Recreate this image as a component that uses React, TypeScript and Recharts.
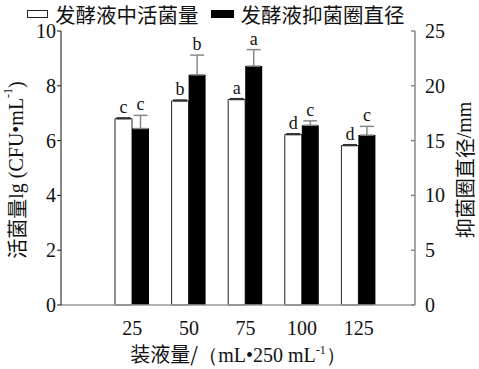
import React from "react";
import { BarChart, Bar, XAxis, YAxis, ErrorBar, LabelList, Label } from "recharts";

const categories = ["25", "50", "75", "100", "125"];
const viableCount = [6.8, 7.45, 7.5, 6.22, 5.82];
const viableErr = [0.03, 0.03, 0.03, 0.03, 0.03];
const viableLetters = ["c", "b", "a", "d", "d"];
const zoneDiameter = [16.1, 21.0, 21.8, 16.4, 15.5];
const zoneErr = [1.2, 1.8, 1.5, 0.4, 0.8];
const zoneLetters = ["c", "b", "a", "c", "c"];
const leftTicks = [0, 2, 4, 6, 8, 10];
const rightTicks = [0, 5, 10, 15, 20, 25];

const data = categories.map((c, i) => ({
  cat: c,
  viable: viableCount[i],
  viableE: [0, viableErr[i]],
  viableL: viableLetters[i],
  zone: zoneDiameter[i],
  zoneE: [0, zoneErr[i]],
  zoneL: zoneLetters[i],
}));

const SERIF = "'Liberation Serif', 'Times New Roman', serif";
const CJK = "'Noto Sans CJK SC', 'Liberation Serif', serif";

const makeLetter = (vals: number[], errs: number[]) => (props: any) => {
  const { x, y, width, height, value, index } = props;
  const v = vals[index];
  const pxPer = v ? height / v : 0;
  const top = y - errs[index] * pxPer;
  return (
    <text x={x + width / 2} y={top - 5} textAnchor="middle" fontFamily={SERIF} fontSize={18} fill="#111">
      {value}
    </text>
  );
};

const XTick = (props: any) => {
  const { x, y, payload } = props;
  return (
    <text x={x} y={y + 22} textAnchor="middle" fontFamily={SERIF} fontSize={20} fill="#111">
      {payload.value}
    </text>
  );
};

const LeftTick = (props: any) => {
  const { x, y, payload } = props;
  return (
    <text x={x} y={y} dy={7} textAnchor="end" fontFamily={SERIF} fontSize={20} fill="#111">
      {payload.value}
    </text>
  );
};

const RightTick = (props: any) => {
  const { x, y, payload } = props;
  const axisX = x - 10;
  return (
    <g>
      <line x1={axisX - 4} x2={axisX} y1={y} y2={y} stroke="#888" strokeWidth={1.5} />
      <text x={x} y={y} dy={7} textAnchor="start" fontFamily={SERIF} fontSize={20} fill="#111">
        {payload.value}
      </text>
    </g>
  );
};

const XLabel = (props: any) => {
  const vb = props.viewBox;
  return (
    <text x={vb.x + vb.width / 2} y={vb.y + 57} textAnchor="middle" fontSize={20} fill="#111">
      <tspan fontFamily={CJK}>装液量/</tspan>
      <tspan fontFamily={SERIF}>（mL•250 mL</tspan>
      <tspan fontFamily={SERIF} fontSize={12} dy={-8}>-1</tspan>
      <tspan fontFamily={SERIF} dy={8}>）</tspan>
    </text>
  );
};

const LeftLabel = (props: any) => {
  const vb = props.viewBox;
  const cx = vb.x - 5;
  const cy = vb.y + vb.height / 2 + 2;
  return (
    <text x={cx} y={cy} textAnchor="middle" dominantBaseline="central" transform={`rotate(-90 ${cx} ${cy})`} fontSize={20} fill="#111">
      <tspan fontFamily={CJK}>活菌量</tspan>
      <tspan fontFamily={SERIF}>lg (CFU•mL</tspan>
      <tspan fontFamily={SERIF} fontSize={12} dy={-8}>-1</tspan>
      <tspan fontFamily={SERIF} dy={8}>)</tspan>
    </text>
  );
};

const RightLabel = (props: any) => {
  const vb = props.viewBox;
  const cx = vb.x + 49;
  const cy = vb.y + vb.height / 2 + 2;
  return (
    <text x={cx} y={cy} textAnchor="middle" dominantBaseline="central" transform={`rotate(-90 ${cx} ${cy})`} fontSize={20} fill="#111">
      <tspan fontFamily={CJK}>抑菌圈直径</tspan>
      <tspan fontFamily={SERIF}>/mm</tspan>
    </text>
  );
};

export default function App() {
  return (
    <div style={{ position: "absolute", left: 0, top: 0, width: 479, height: 369, background: "#fff" }}>
      <div
        style={{
          position: "absolute",
          left: 27,
          top: 1,
          height: 26,
          lineHeight: "26px",
          display: "flex",
          alignItems: "center",
          fontFamily: CJK,
          fontSize: 20.5,
          color: "#111",
          whiteSpace: "nowrap",
        }}
      >
        <span style={{ display: "inline-block", width: 19, height: 6, border: "1px solid #222", background: "#fff", marginRight: 7 }} />
        <span>发酵液中活菌量</span>
        <span style={{ display: "inline-block", width: 23, height: 8, background: "#000", marginLeft: 12, marginRight: 7 }} />
        <span>发酵液抑菌圈直径</span>
      </div>
      <BarChart
        width={479}
        height={369}
        data={data}
        margin={{ top: 31, right: 24, bottom: 20, left: 21 }}
        barGap={0}
        barSize={17}
      >
        <XAxis
          dataKey="cat"
          height={44}
          stroke="#999"
          strokeWidth={1.5}
          tickLine={false}
          tick={<XTick />}
          padding={{ left: 43, right: 28 }}
          interval={0}
        >
          <Label content={<XLabel />} />
        </XAxis>
        <YAxis
          yAxisId="left"
          width={40}
          domain={[0, 10]}
          ticks={leftTicks}
          stroke="#111"
          tickSize={4}
          tickMargin={1}
          tick={<LeftTick />}
          interval={0}
        >
          <Label content={<LeftLabel />} />
        </YAxis>
        <YAxis
          yAxisId="right"
          orientation="right"
          width={40}
          domain={[0, 25]}
          ticks={rightTicks}
          stroke="#888"
          strokeWidth={1.5}
          tickLine={false}
          tickSize={0}
          tickMargin={10}
          tick={<RightTick />}
          interval={0}
        >
          <Label content={<RightLabel />} />
        </YAxis>
        <Bar yAxisId="left" dataKey="viable" fill="#fff" stroke="#222" strokeWidth={1} isAnimationActive={false}>
          <ErrorBar dataKey="viableE" width={7} stroke="#333" strokeWidth={1.5} />
          <LabelList dataKey="viableL" content={makeLetter(viableCount, viableErr)} />
        </Bar>
        <Bar yAxisId="right" dataKey="zone" fill="#000" isAnimationActive={false}>
          <ErrorBar dataKey="zoneE" width={7} stroke="#888" strokeWidth={1.5} />
          <LabelList dataKey="zoneL" content={makeLetter(zoneDiameter, zoneErr)} />
        </Bar>
      </BarChart>
    </div>
  );
}
